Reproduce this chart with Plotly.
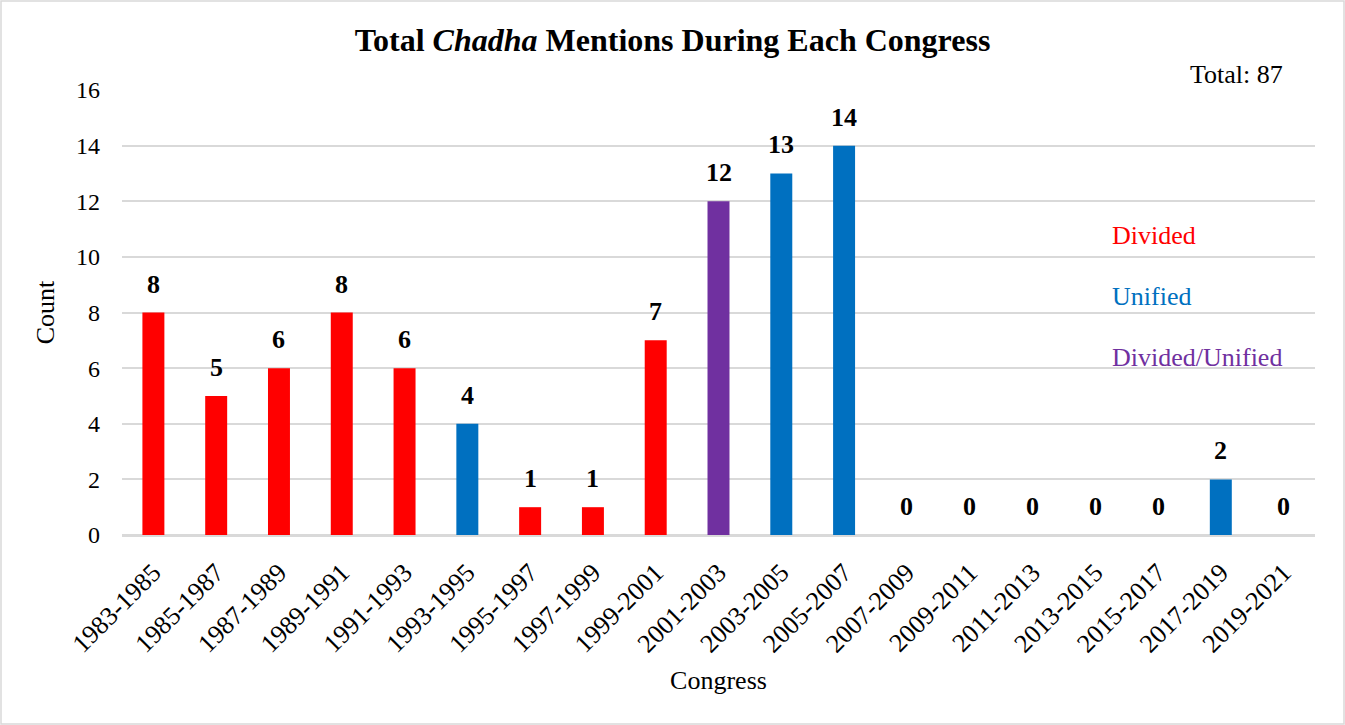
import plotly.graph_objects as go

# Congress sessions and mention counts
congresses = ["1983-1985", "1985-1987", "1987-1989", "1989-1991", "1991-1993",
              "1993-1995", "1995-1997", "1997-1999", "1999-2001", "2001-2003",
              "2003-2005", "2005-2007", "2007-2009", "2009-2011", "2011-2013",
              "2013-2015", "2015-2017", "2017-2019", "2019-2021"]
counts = [8, 5, 6, 8, 6, 4, 1, 1, 7, 12, 13, 14, 0, 0, 0, 0, 0, 2, 0]
control = ["Divided", "Divided", "Divided", "Divided", "Divided",
           "Unified", "Divided", "Divided", "Divided", "Divided/Unified",
           "Unified", "Unified", "Divided", "Divided", "Divided",
           "Divided", "Divided", "Unified", "Divided"]

palette = {"Divided": "#FF0000", "Unified": "#0070C0", "Divided/Unified": "#7030A0"}
legend_items = ["Divided", "Unified", "Divided/Unified"]

FONT = "Liberation Serif"
W, H = 1345, 725
ML, MR, MT, MB = 122, 30, 90, 190
PW, PH = W - ML - MR, H - MT - MB

fig = go.Figure()
fig.add_trace(go.Bar(
    x=congresses, y=counts,
    marker=dict(color=[palette[c] for c in control], line=dict(width=0)),
    width=0.35, showlegend=False, hoverinfo="x+y",
))

# value labels above each bar
for c, v in zip(congresses, counts):
    fig.add_annotation(x=c, y=v, text=f"<b>{v}</b>", showarrow=False,
                       yanchor="bottom", yshift=12,
                       font=dict(family=FONT, size=26, color="black"))

# colour key
for i, name in enumerate(legend_items):
    fig.add_annotation(xref="paper", yref="paper", x=(1110 - ML) / PW,
                       y=1 - (235 + 61 * i - MT) / PH, text=name,
                       showarrow=False, xanchor="left", yanchor="middle",
                       font=dict(family=FONT, size=26, color=palette[name]))

fig.add_annotation(xref="paper", yref="paper", x=(1285 - ML) / PW,
                   y=1 - (74 - MT) / PH, text=f"Total: {sum(counts)}",
                   showarrow=False, xanchor="right", yanchor="middle",
                   font=dict(family=FONT, size=26, color="black"))

# outer frame
fig.add_shape(type="rect", xref="paper", yref="paper",
              x0=(-ML + 1) / PW, x1=1 + (MR - 1) / PW,
              y0=-(MB - 1) / PH, y1=1 + (MT - 1) / PH,
              line=dict(color="#d9d9d9", width=1.5), fillcolor="rgba(0,0,0,0)")

fig.update_layout(
    width=W, height=H,
    margin=dict(l=ML, r=MR, t=MT, b=MB),
    paper_bgcolor="white", plot_bgcolor="white",
    font=dict(family=FONT, color="black"),
    title=dict(text="<b>Total <i>Chadha</i> Mentions During Each Congress</b>",
               x=0.5, xanchor="center", y=1 - 40 / H, yanchor="middle",
               font=dict(family=FONT, size=32, color="black")),
    bargap=0.65,
)
fig.update_xaxes(
    title=dict(text="Congress", font=dict(family=FONT, size=26), standoff=13),
    tickangle=-45, tickfont=dict(family=FONT, size=26),
    showline=True, linecolor="#d9d9d9", linewidth=2,
    showgrid=False, ticks="", ticklabelstandoff=10,
)
fig.update_yaxes(
    title=dict(text="Count", font=dict(family=FONT, size=26), standoff=13),
    range=[0, 16], dtick=2, tickfont=dict(family=FONT, size=24),
    showgrid=True, gridcolor="#d9d9d9", gridwidth=1.5,
    zeroline=True, zerolinecolor="#d9d9d9", zerolinewidth=2,
    ticklabelstandoff=21,
)

fig.write_html("out.html")
